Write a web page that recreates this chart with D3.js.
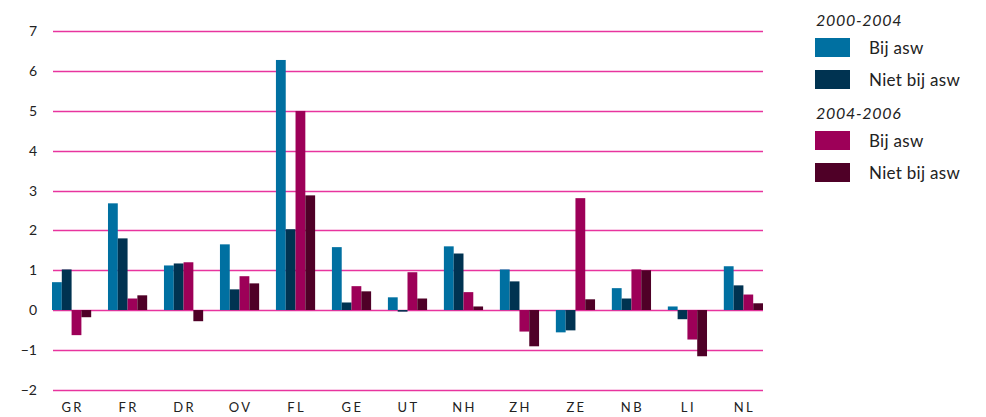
<!DOCTYPE html>
<html>
<head>
<meta charset="utf-8">
<script src="https://cdn.jsdelivr.net/npm/d3@7"></script>
<style>
  html, body { margin: 0; padding: 0; background: #fff; }
  svg { display: block; font-family: Lato, "Open Sans", sans-serif; }
</style>
</head>
<body>
<svg id="chart" width="986" height="417"></svg>
<script>
// Provinces and the Netherlands total
const categories = ["GR", "FR", "DR", "OV", "FL", "GE", "UT", "NH", "ZH", "ZE", "NB", "LI", "NL"];

// Growth per period, split by asw-location
const bij2000_2004     = [0.70, 2.68, 1.12, 1.65, 6.28, 1.58, 0.32, 1.60, 1.02, -0.56, 0.55, 0.09, 1.10];
const nietBij2000_2004 = [1.02, 1.80, 1.17, 0.52, 2.03, 0.19, -0.04, 1.42, 0.72, -0.51, 0.29, -0.23, 0.62];
const bij2004_2006     = [-0.63, 0.29, 1.20, 0.85, 5.00, 0.60, 0.95, 0.45, -0.54, 2.81, 1.02, -0.74, 0.39];
const nietBij2004_2006 = [-0.18, 0.37, -0.28, 0.67, 2.88, 0.47, 0.29, 0.09, -0.91, 0.27, 1.00, -1.16, 0.17];

const seriesNames = ["Bij asw", "Niet bij asw", "Bij asw", "Niet bij asw"];
const periods = ["2000-2004", "2004-2006"];
const yTicks = [-2, -1, 0, 1, 2, 3, 4, 5, 6, 7];

const series = [bij2000_2004, nietBij2000_2004, bij2004_2006, nietBij2004_2006];
const colors = ["#0070a1", "#003351", "#9d0058", "#4f0027"];

const svg = d3.select("#chart");
const plotLeft = 52, plotRight = 763, plotTop = 31.3, plotBottom = 389.7;

const y = d3.scaleLinear().domain([-2, 7]).range([plotBottom, plotTop]);
const x0 = d3.scaleBand().domain(categories).range([plotLeft, plotRight])
  .paddingInner(0.3).paddingOuter(0);
const x1 = d3.scaleBand().domain(d3.range(series.length)).range([0, x0.bandwidth()]);

// horizontal gridlines
svg.append("g").selectAll("line").data(yTicks).join("line")
  .attr("x1", plotLeft + 1).attr("x2", plotRight)
  .attr("y1", d => Math.round(y(d)) + 0.5).attr("y2", d => Math.round(y(d)) + 0.5)
  .attr("stroke", "#e8349e").attr("stroke-width", 1.3);

// y tick labels
const yAxis = d3.axisLeft(y).tickValues(yTicks).tickSize(0).tickPadding(0).tickFormat(d3.format("d"));
const ya = svg.append("g").attr("transform", "translate(37,0)").call(yAxis);
ya.select(".domain").remove();
ya.selectAll("text").attr("font-size", 14).attr("fill", "#222")
  .attr("font-family", "Lato, sans-serif");

// bars
const groups = svg.append("g").selectAll("g").data(categories).join("g")
  .attr("transform", d => `translate(${x0(d)},0)`);
groups.selectAll("rect")
  .data((d, i) => series.map((s, k) => ({ k, v: s[i] })))
  .join("rect")
  .attr("x", d => x1(d.k))
  .attr("width", x1.bandwidth())
  .attr("y", d => y(Math.max(0, d.v)))
  .attr("height", d => Math.abs(y(d.v) - y(0)))
  .attr("fill", d => colors[d.k]);

// category labels
const xAxis = d3.axisBottom(x0).tickSize(0).tickPadding(0);
const xa = svg.append("g").attr("transform", `translate(1,${plotBottom + 11})`).call(xAxis);
xa.select(".domain").remove();
xa.selectAll("text").attr("font-size", 13).attr("fill", "#222")
  .attr("letter-spacing", "2.4px").attr("dy", "0.85em")
  .attr("font-family", "Lato, sans-serif");

// legend
const lg = svg.append("g").attr("transform", "translate(815,0)");
const headerY = [26, 119];
periods.forEach((p, pi) => {
  lg.append("text").attr("x", 1).attr("y", headerY[pi])
    .attr("font-size", 16).attr("font-style", "italic").attr("fill", "#222")
    .attr("letter-spacing", "0.7px")
    .text(p);
  [0, 1].forEach(j => {
    const k = pi * 2 + j;
    const yy = headerY[pi] + 12 + j * 32;
    lg.append("rect").attr("x", 0).attr("y", yy).attr("width", 35).attr("height", 19)
      .attr("fill", colors[k]);
    lg.append("text").attr("x", 54).attr("y", yy + 16)
      .attr("font-size", 17).attr("fill", "#222")
      .attr("letter-spacing", "0.3px")
      .text(seriesNames[k]);
  });
});
</script>
</body>
</html>
